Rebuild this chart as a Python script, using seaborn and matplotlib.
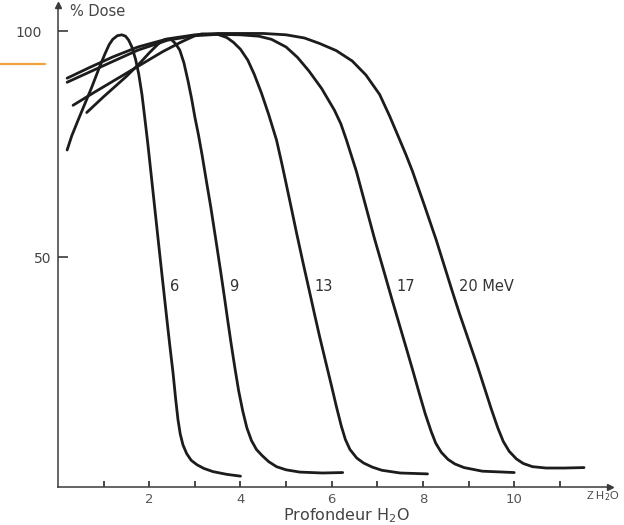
import matplotlib
matplotlib.use("Agg")
import matplotlib.pyplot as plt
from matplotlib.lines import Line2D
from matplotlib.transforms import ScaledTranslation
import seaborn as sns
import pandas as pd

# ---- data ----
depth_6 = [0.2, 0.3, 0.44, 0.6, 0.74, 0.9, 1.03, 1.12, 1.2, 1.3, 1.4, 1.48, 1.55, 1.62, 1.7,
           1.77, 1.84, 1.9, 1.97, 2.05, 2.13, 2.21, 2.28, 2.34, 2.40, 2.45, 2.52, 2.58, 2.63,
           2.68, 2.74, 2.82, 2.92, 3.05, 3.2, 3.4, 3.7, 4.0]
dose_6 = [73.7, 76.8, 80.3, 84.2, 87.6, 91.8, 95.0, 97.0, 98.2, 99.0, 99.2, 98.9, 98.0, 96.5, 93.8,
          90.5, 86.0, 81.0, 75.0, 67.5, 60.0, 52.5, 46.0, 40.5, 35.0, 30.5, 24.5, 18.5, 14.0,
          10.8, 8.4, 6.5, 5.0, 4.0, 3.2, 2.5, 1.9, 1.5]

depth_9 = [0.63, 1.0, 1.5, 1.8, 2.0, 2.2, 2.35, 2.48, 2.58, 2.67, 2.76, 2.85, 2.93, 3.0, 3.08,
           3.16, 3.25, 3.35, 3.48, 3.57, 3.65, 3.72, 3.8, 3.88, 3.96, 4.05, 4.14, 4.24, 4.35,
           4.48, 4.62, 4.79, 5.0, 5.3, 5.8, 6.24]
dose_9 = [82.0, 85.5, 90.0, 93.0, 95.2, 97.2, 98.2, 98.2, 97.2, 95.8, 93.0, 89.0, 85.0, 81.0, 77.0,
          72.5, 67.0, 61.0, 52.5, 46.5, 41.0, 36.0, 30.5, 25.3, 20.4, 15.9, 12.2, 9.4, 7.4,
          6.0, 4.7, 3.6, 2.9, 2.4, 2.2, 2.3]

depth_13 = [0.33, 0.8, 1.3, 1.8, 2.3, 2.7, 3.0, 3.15, 3.5, 3.7, 3.85, 4.0, 4.16, 4.3, 4.46,
            4.62, 4.79, 4.9, 5.0, 5.12, 5.23, 5.37, 5.51, 5.62, 5.73, 5.88, 6.0, 6.1, 6.21,
            6.3, 6.4, 6.55, 6.7, 6.89, 7.1, 7.5, 8.1]
dose_13 = [83.6, 86.5, 89.5, 92.5, 95.5, 97.6, 99.0, 99.4, 99.3, 98.6, 97.5, 96.0, 93.6, 90.5, 86.3,
           81.5, 75.9, 71.0, 66.3, 60.6, 55.3, 48.8, 42.5, 37.5, 32.6, 26.3, 21.3, 17.0, 12.6,
           9.6, 7.4, 5.5, 4.4, 3.5, 2.8, 2.2, 2.0]

depth_17 = [0.2, 0.7, 1.2, 1.75, 2.4, 3.0, 3.5, 4.0, 4.4, 4.68, 5.0, 5.25, 5.5, 5.78, 6.06, 6.2,
            6.32, 6.54, 6.74, 6.94, 7.12, 7.31, 7.47, 7.63, 7.78, 7.92, 8.05, 8.18, 8.28, 8.4,
            8.55, 8.7, 8.9, 9.3, 10.0]
dose_17 = [88.7, 91.0, 93.3, 95.8, 98.0, 99.0, 99.3, 99.2, 98.9, 98.2, 96.5, 94.2, 91.2, 87.3, 82.5,
           79.5, 76.0, 69.0, 61.5, 54.0, 47.7, 41.0, 35.5, 30.0, 24.8, 19.8, 15.3, 11.4, 8.8,
           6.8, 5.2, 4.2, 3.4, 2.6, 2.3]

depth_20 = [0.2, 0.7, 1.2, 1.75, 2.4, 3.0, 3.5, 4.5, 5.0, 5.4, 5.73, 6.1, 6.45, 6.75, 7.05, 7.27,
            7.48, 7.63, 7.77, 8.03, 8.29, 8.47, 8.64, 8.8, 8.97, 9.19, 9.35, 9.5, 9.64, 9.76,
            9.89, 10.05, 10.2, 10.4, 10.7, 11.1, 11.53]
dose_20 = [89.6, 92.0, 94.3, 96.5, 98.3, 99.2, 99.5, 99.5, 99.2, 98.5, 97.3, 95.7, 93.4, 90.3, 86.0,
           81.2, 76.2, 72.6, 69.0, 61.5, 53.8, 48.0, 42.5, 37.5, 32.5, 26.0, 21.0, 16.3, 12.2,
           9.2, 7.0, 5.3, 4.3, 3.6, 3.3, 3.3, 3.4]

energies = ["6", "9", "13", "17", "20 MeV"]
label_x = [2.45, 3.76, 5.62, 7.42, 8.8]
label_y = 43.4

x_ticks = [1, 2, 3, 4, 5, 6, 7, 8, 9, 10, 11]
x_ticklabels = ["", "2", "", "4", "", "6", "", "8", "", "10", ""]
y_ticks = [50, 100]
y_ticklabels = ["50", "100"]

series = [(depth_6, dose_6), (depth_9, dose_9), (depth_13, dose_13),
          (depth_17, dose_17), (depth_20, dose_20)]
rows = []
for e, (xs, ys) in zip(energies, series):
    for xv, yv in zip(xs, ys):
        rows.append({"depth": xv, "dose": yv, "energy": e})
df = pd.DataFrame(rows)

# ---- plot ----
sns.set_style("white")
plt.rcParams["font.family"] = ["DejaVu Sans"]

fig = plt.figure(figsize=(6.24, 5.25), dpi=100)
ax = fig.add_axes([58 / 624, 38 / 525, 552 / 624, 482 / 525])

line_col = "#1c1c1c"
sns.lineplot(data=df, x="depth", y="dose", hue="energy", units="energy", estimator=None,
             sort=False, palette=[line_col] * 5, linewidth=2.0, legend=False, ax=ax,
             solid_capstyle="round", solid_joinstyle="round")

ax.set_xlim(0, 12.1)
ax.set_ylim(-0.9, 105.8)

for s in ["top", "right"]:
    ax.spines[s].set_visible(False)
for s in ["left", "bottom"]:
    ax.spines[s].set_color("#3a3a3a")
    ax.spines[s].set_linewidth(1.1)

ax.set_xticks(x_ticks)
ax.set_xticklabels(x_ticklabels)
ax.set_yticks(y_ticks)
ax.set_yticklabels(y_ticklabels)
ax.tick_params(axis="x", bottom=True, direction="in", length=4, width=1.3, color="#3a3a3a",
               labelsize=9.5, labelcolor="#555555", pad=4)
ax.tick_params(axis="y", left=True, direction="in", length=7, width=1.2, color="#3a3a3a",
               labelsize=10, labelcolor="#444444", pad=5)
ax.set_xlabel("")
ax.set_ylabel("")

# the scanned "100" label sits further left than "50"
lbl100 = ax.get_yticklabels()[1]
lbl100.set_transform(lbl100.get_transform() + ScaledTranslation(-9 / 100, 0, fig.dpi_scale_trans))

# axis arrowheads
ax.plot([0], [1], marker="^", markersize=5, color="#3a3a3a", transform=ax.transAxes, clip_on=False)
ax.plot([1], [0], marker=">", markersize=5, color="#3a3a3a", transform=ax.transAxes, clip_on=False)

# curve labels
for e, lx in zip(energies, label_x):
    ax.text(lx, label_y, e, ha="left", va="center", fontsize=10.5, color="#333333")

fig.text(70 / 624, 1 - 11 / 525, "% Dose", ha="left", va="center", fontsize=10.5, color="#444444")
fig.text(346 / 624, 1 - 516 / 525, "Profondeur H$_2$O", ha="center", va="center",
         fontsize=11.5, color="#444444")
fig.text(619 / 624, 1 - 496 / 525, "Z H$_2$O", ha="right", va="center", fontsize=8,
         color="#444444", family="Liberation Sans")

# orange slide rule at the left
fig.add_artist(Line2D([0, 45 / 624], [1 - 64 / 525, 1 - 64 / 525], color="#f2a23a", lw=1.6))

fig.savefig("out.png", dpi=100, facecolor="white")
